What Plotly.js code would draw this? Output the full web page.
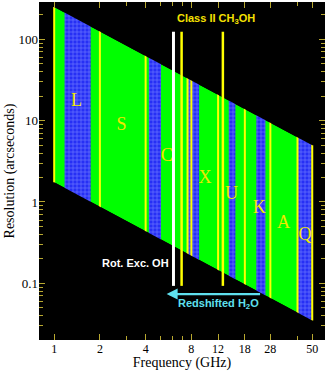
<!DOCTYPE html>
<html>
<head>
<meta charset="utf-8">
<script src="https://cdn.plot.ly/plotly-3.0.1.min.js"></script>
<style>
  body { margin: 0; background: #fff; }
  #plot { width: 327px; height: 371px; }
</style>
</head>
<body>
<div id="plot"></div>
<script>
// observable band: edges of the green parallelogram
let edgeFreq = [1, 50];
let upperRes = [250, 5];
let lowerRes = [1.75, 0.035];

// hatched (blue) sub-bands, GHz
let blueStart = [1.17, 4.2, 7.5, 14.1, 21.4, 40.3];
let blueEnd = [1.74, 5.05, 9.0, 15.6, 24.6, 50];

// yellow band edge lines, GHz
let edgeLines = [1, 2, 4, 7.55, 8, 12, 18, 26.5, 40, 50];

// maser lines
let ohFreq = [6.1];
let methanolFreq = [6.9, 12.9];
let maserRes = [0.093, 124];

// band letters
let bandNames = ['L', 'S', 'C', 'X', 'U', 'K', 'A', 'Q'];
let bandFreq = [1.4, 2.78, 5.5, 9.85, 14.7, 22.4, 32.3, 44.8];
let bandRes = [17, 8.8, 3.6, 1.95, 1.22, 0.84, 0.55, 0.39];

// H2O arrow, GHz from tail to head
let h2oArrow = [23.2, 5.5];
let h2oRes = 0.0738;

// axis ticks
let xTicks = [1, 2, 4, 8, 12, 18, 26.5, 50];
let xTickText = ['1', '2', '4', '8', '12', '18', '28', '50'];
let xMinor = [3, 5, 6, 7, 40];
let yTicks = [0.1, 1, 10, 100];
let yTickText = ['0.1', '1', '10', '100'];

let yMinor = [];
[0.01, 0.1, 1, 10, 100].forEach(d => {
    for (let k = 2; k <= 9; k++) yMinor.push(d * k);
});

let far = [0.3, 200, 1e-4, 1e5]; // mask extents beyond the axes

let data = [];

// green band
data.push({
    x: [edgeFreq[0], edgeFreq[1], edgeFreq[1], edgeFreq[0]],
    y: [upperRes[0], upperRes[1], lowerRes[1], lowerRes[0]],
    fill: 'toself', fillcolor: '#00ff00', mode: 'lines', line: {width: 0},
    hoverinfo: 'skip'
});

// blue hatched bands (full height, masked afterwards)
blueStart.forEach((a, i) => {
    let b = blueEnd[i];
    data.push({
        x: [a, b, b, a],
        y: [far[2], far[2], far[3], far[3]],
        fill: 'toself', fillcolor: '#2630f5', mode: 'lines', line: {width: 0},
        fillpattern: {shape: '+', bgcolor: '#2630f5', fgcolor: '#6a78ff', size: 4, solidity: 0.3},
        hoverinfo: 'skip'
    });
});

// yellow edges
let ex = [], ey = [];
edgeLines.forEach(f => { ex.push(f, f, null); ey.push(far[2], far[3], null); });
data.push({x: ex, y: ey, mode: 'lines', line: {color: '#ffff00', width: 2}, hoverinfo: 'skip'});

// black masks above and below the band
data.push({
    x: [far[0], edgeFreq[0], edgeFreq[1], far[1], far[1], far[0]],
    y: [upperRes[0], upperRes[0], upperRes[1], upperRes[1], far[3], far[3]],
    fill: 'toself', fillcolor: '#000', mode: 'lines', line: {width: 0}, hoverinfo: 'skip'
});
data.push({
    x: [far[0], edgeFreq[0], edgeFreq[1], far[1], far[1], far[0]],
    y: [lowerRes[0], lowerRes[0], lowerRes[1], lowerRes[1], far[2], far[2]],
    fill: 'toself', fillcolor: '#000', mode: 'lines', line: {width: 0}, hoverinfo: 'skip'
});

// maser lines
let mx = [], my = [];
methanolFreq.forEach(f => { mx.push(f, f, null); my.push(maserRes[0], maserRes[1], null); });
data.push({x: mx, y: my, mode: 'lines', line: {color: '#ffff00', width: 2.5}, hoverinfo: 'skip'});
data.push({
    x: [ohFreq[0], ohFreq[0]], y: maserRes,
    mode: 'lines', line: {color: '#ffffff', width: 3}, hoverinfo: 'skip'
});

// band letters
data.push({
    x: bandFreq, y: bandRes, text: bandNames, mode: 'text',
    textfont: {family: 'Liberation Serif', size: 18, color: '#f0e800'},
    hoverinfo: 'skip'
});

let sans = {family: 'Liberation Sans', size: 11, weight: 'bold'};

let layout = {
    width: 327,
    height: 371,
    showlegend: false,
    paper_bgcolor: '#fff',
    plot_bgcolor: '#000',
    margin: {l: 39, r: 2, t: 2, b: 31, pad: 0},
    xaxis: {
        type: 'log',
        range: [-0.1, 1.783],
        tickvals: xTicks,
        ticktext: xTickText,
        ticks: 'inside', ticklen: 6, tickcolor: '#b8a830', tickwidth: 1,
        mirror: 'ticks', showgrid: false, zeroline: false, showline: false,
        minor: {tickvals: xMinor, ticks: 'inside', ticklen: 4, tickcolor: '#b8a830', showgrid: false},
        tickfont: {family: 'Liberation Serif', size: 12, color: '#000'},
        title: {text: 'Frequency (GHz)', font: {family: 'Liberation Serif', size: 14, color: '#000'}, standoff: 1}
    },
    yaxis: {
        type: 'log',
        range: [-1.697, 2.459],
        tickvals: yTicks,
        ticktext: yTickText,
        ticks: 'inside', ticklen: 6, tickcolor: '#b8a830', tickwidth: 1,
        mirror: 'ticks', showgrid: false, zeroline: false, showline: false,
        minor: {tickvals: yMinor, ticks: 'inside', ticklen: 4, tickcolor: '#b8a830', showgrid: false},
        tickfont: {family: 'Liberation Serif', size: 13, color: '#000'},
        title: {text: 'Resolution (arcseconds)', font: {family: 'Liberation Serif', size: 14, color: '#000'}, standoff: 0}
    },
    annotations: [
        {
            x: Math.log10(11.6), y: Math.log10(180), xref: 'x', yref: 'y',
            text: 'Class II CH<sub>3</sub>OH', showarrow: false,
            font: Object.assign({}, sans, {color: '#f5e000'})
        },
        {
            x: Math.log10(3.42), y: Math.log10(0.176), xref: 'x', yref: 'y',
            text: 'Rot. Exc. OH', showarrow: false,
            font: Object.assign({}, sans, {color: '#fff'})
        },
        {
            x: Math.log10(h2oArrow[1]), y: Math.log10(h2oRes), xref: 'x', yref: 'y',
            ax: Math.log10(h2oArrow[0]), ay: Math.log10(h2oRes), axref: 'x', ayref: 'y',
            text: '', showarrow: true, arrowhead: 2, arrowsize: 1, arrowwidth: 2.2,
            arrowcolor: '#5fe0ee'
        },
        {
            x: Math.log10(12.0), y: Math.log10(0.0556), xref: 'x', yref: 'y',
            text: 'Redshifted H<sub>2</sub>O', showarrow: false,
            font: Object.assign({}, sans, {color: '#5fe0ee'})
        }
    ]
};

Plotly.newPlot('plot', data, layout, {displayModeBar: false, staticPlot: true});
</script>
</body>
</html>
